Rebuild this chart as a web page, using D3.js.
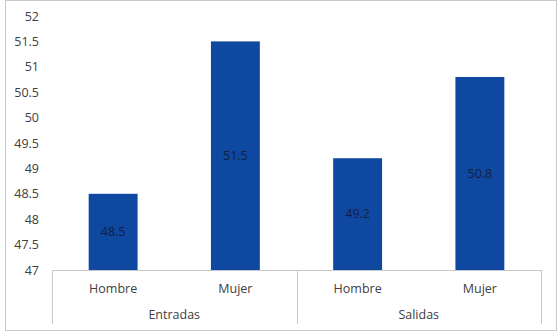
<!DOCTYPE html>
<html>
<head>
<meta charset="utf-8">
<script src="https://cdn.jsdelivr.net/npm/d3@7"></script>
<style>
  body { margin: 0; background: #fff; }
  svg { display: block; font-family: "Open Sans", "Noto Sans", sans-serif; }
</style>
</head>
<body>
<div class="chart"></div>
<script>
// data
const groups = ["Entradas", "Salidas"];
const categories = ["Hombre", "Mujer", "Hombre", "Mujer"];
const values = [48.5, 51.5, 49.2, 50.8];
const yTicks = [47, 47.5, 48, 48.5, 49, 49.5, 50, 50.5, 51, 51.5, 52];

const svg_width = 560;
const svg_height = 334;
const chart_margin = { top: 16, right: 19, bottom: 64, left: 52 };
const chart_width = svg_width - (chart_margin.left + chart_margin.right);
const chart_height = svg_height - (chart_margin.top + chart_margin.bottom);

const svg = d3.select(".chart").append("svg")
    .attr("width", svg_width)
    .attr("height", svg_height);

/* outer frame */
svg.append("rect")
    .attr("x", 5.5).attr("y", 0.5)
    .attr("width", 551).attr("height", 330)
    .attr("fill", "#fff").attr("stroke", "#c8c8c8");

const g = svg.append("g")
    .attr("transform", `translate(${chart_margin.left},${chart_margin.top})`);

/* scales */
const xScale = d3.scaleBand()
    .domain(d3.range(values.length))
    .range([0, chart_width])
    .paddingInner(0.6).paddingOuter(0.3);
const yScale = d3.scaleLinear().domain([47, 52]).range([chart_height, 0]);

/* y axis, no line */
const yAxis = d3.axisLeft(yScale).tickValues(yTicks).tickSize(0).tickPadding(13)
    .tickFormat(d3.format("~g"));
g.append("g").attr("class", "y axis").call(yAxis)
    .call(s => s.select(".domain").remove())
    .call(s => s.selectAll("text").attr("fill", "#404040").style("font-size", "12.5px")
        .style("font-family", "'Open Sans', 'Noto Sans', sans-serif"));

/* bars */
g.selectAll(".bar").data(values).join("rect")
    .attr("class", "bar")
    .attr("x", (d, i) => xScale(i))
    .attr("y", d => yScale(d))
    .attr("width", xScale.bandwidth())
    .attr("height", d => chart_height - yScale(d))
    .attr("fill", "#0f48a0");

/* value labels in bar centre */
g.selectAll(".val").data(values).join("text")
    .attr("class", "val")
    .attr("x", (d, i) => xScale(i) + xScale.bandwidth() / 2)
    .attr("y", d => (yScale(d) + chart_height) / 2)
    .attr("dy", "0.35em")
    .attr("text-anchor", "middle")
    .attr("fill", "#151f3d")
    .style("font-size", "12.5px")
    .text(d => d);

/* category axis with group separators */
const axisColor = "#c8c8c8";
g.append("line")
    .attr("x1", 0).attr("x2", chart_width)
    .attr("y1", chart_height + 0.5).attr("y2", chart_height + 0.5)
    .attr("stroke", axisColor);

const step = xScale.step();
const groupEdges = [0, 2, 4].map(i => i === 4 ? chart_width : xScale(i) - step * xScale.paddingInner() / 2);
groupEdges[0] = 0;
g.selectAll(".sep").data(groupEdges).join("line")
    .attr("class", "sep")
    .attr("x1", d => Math.round(d) + 0.5).attr("x2", d => Math.round(d) + 0.5)
    .attr("y1", chart_height).attr("y2", chart_height + 54)
    .attr("stroke", axisColor);

g.selectAll(".cat").data(categories).join("text")
    .attr("class", "cat")
    .attr("x", (d, i) => xScale(i) + xScale.bandwidth() / 2)
    .attr("y", chart_height + 23)
    .attr("text-anchor", "middle")
    .attr("fill", "#404040")
    .style("font-size", "12.5px")
    .text(d => d);

g.selectAll(".grp").data(groups).join("text")
    .attr("class", "grp")
    .attr("x", (d, gi) => (groupEdges[gi] + groupEdges[gi + 1]) / 2)
    .attr("y", chart_height + 49)
    .attr("text-anchor", "middle")
    .attr("fill", "#404040")
    .style("font-size", "12.5px")
    .text(d => d);
</script>
</body>
</html>
